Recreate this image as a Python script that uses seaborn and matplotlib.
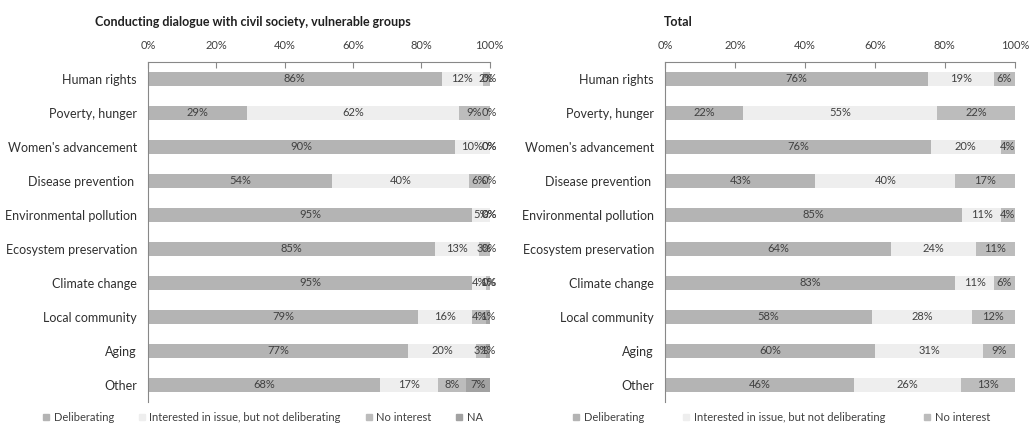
import numpy as np
import pandas as pd
import seaborn as sns
import matplotlib.pyplot as plt
from matplotlib.lines import Line2D

topics = ['Human rights', 'Poverty, hunger', "Women's advancement", 'Disease prevention ',
          'Environmental pollution', 'Ecosystem preservation', 'Climate change',
          'Local community', 'Aging', 'Other']

# left panel: dialogue with civil society
civ_delib = [86, 29, 90, 54, 95, 85, 95, 79, 77, 68]
civ_interest = [12, 62, 10, 40, 5, 13, 4, 16, 20, 17]
civ_nointerest = [2, 9, 0, 6, 0, 3, 1, 4, 3, 8]
civ_na = [0, 0, 0, 0, 0, 0, 0, 1, 1, 7]

# right panel: total
tot_delib = [76, 22, 76, 43, 85, 64, 83, 58, 60, 46]
tot_interest = [19, 55, 20, 40, 11, 24, 11, 28, 31, 26]
tot_nointerest = [6, 22, 4, 17, 4, 11, 6, 12, 9, 13]

series_names = ['Deliberating', 'Interested in issue, but not deliberating', 'No interest', 'NA']
colors = ['#b4b4b4', '#eeeeee', '#bcbcbc', '#a2a2a2']

sns.set_style('white')
plt.rcParams['font.family'] = ['Lato', 'DejaVu Sans']

fig = plt.figure(figsize=(10.35, 4.33), dpi=100)
ax1 = fig.add_axes([0.143, 0.072, 0.330, 0.785])
ax2 = fig.add_axes([0.6425, 0.072, 0.338, 0.785])


def draw_panel(ax, series):
    names = series_names[:len(series)]
    df = pd.DataFrame(np.array(series, dtype=float).T, columns=names)
    # 100% stacked: each row scaled to the full width
    share = df.div(df.sum(axis=1), axis=0) * 100
    cum = share.cumsum(axis=1)
    for i in reversed(range(len(series))):
        sns.barplot(x=cum[names[i]], y=topics, color=colors[i], orient='h',
                    width=0.4, saturation=1, ax=ax, linewidth=0)
    for name in names:
        for r in range(len(topics)):
            ax.text(cum[name].iloc[r] - share[name].iloc[r] / 2, r, f'{df[name].iloc[r]:.0f}%',
                    ha='center', va='center', fontsize=8, color='#404040')
    ax.set_xlim(0, 100)
    ax.set_ylim(len(topics) - 0.5, -0.5)
    ax.xaxis.tick_top()
    ax.set_xticks(range(0, 101, 20))
    ax.set_xticklabels([f'{t}%' for t in range(0, 101, 20)], fontsize=8, color='#404040')
    ax.tick_params(axis='x', direction='in', length=4, pad=8, color='#888888')
    ax.set_yticks(range(len(topics)))
    ax.set_yticklabels(topics, fontsize=9, color='#303030')
    ax.tick_params(axis='y', length=0, pad=8)
    ax.set_yticks(np.arange(-0.5, len(topics), 1), minor=True)
    ax.tick_params(axis='y', which='minor', length=4, color='#888888')
    ax.set_xlabel('')
    ax.set_ylabel('')
    for s in ['right', 'bottom']:
        ax.spines[s].set_visible(False)
    for s in ['top', 'left']:
        ax.spines[s].set_color('#888888')
        ax.spines[s].set_linewidth(0.8)
    return [Line2D([], [], marker='s', linestyle='', markersize=5,
                   markerfacecolor=colors[i], markeredgecolor=colors[i])
            for i in range(len(series))]


h1 = draw_panel(ax1, [civ_delib, civ_interest, civ_nointerest, civ_na])
h2 = draw_panel(ax2, [tot_delib, tot_interest, tot_nointerest])

title_font = ['Liberation Sans Narrow', 'Lato', 'DejaVu Sans']
fig.text(0.092, 0.94, 'Conducting dialogue with civil society, vulnerable groups',
         fontsize=9, fontweight='bold', color='#202020', family=title_font)
fig.text(0.641, 0.94, 'Total', fontsize=9, fontweight='bold', color='#202020', family=title_font)

fig.legend(h1, series_names, loc='center left', bbox_to_anchor=(0.040, 0.035), ncol=4,
           frameon=False, fontsize=8, handlelength=0.8, handletextpad=0.3,
           columnspacing=2.1, labelcolor='#404040', borderpad=0, borderaxespad=0)
fig.legend(h2, series_names[:3], loc='center left', bbox_to_anchor=(0.552, 0.035), ncol=3,
           frameon=False, fontsize=8, handlelength=0.8, handletextpad=0.3,
           columnspacing=3.4, labelcolor='#404040', borderpad=0, borderaxespad=0)

fig.savefig('out.png', dpi=100)
